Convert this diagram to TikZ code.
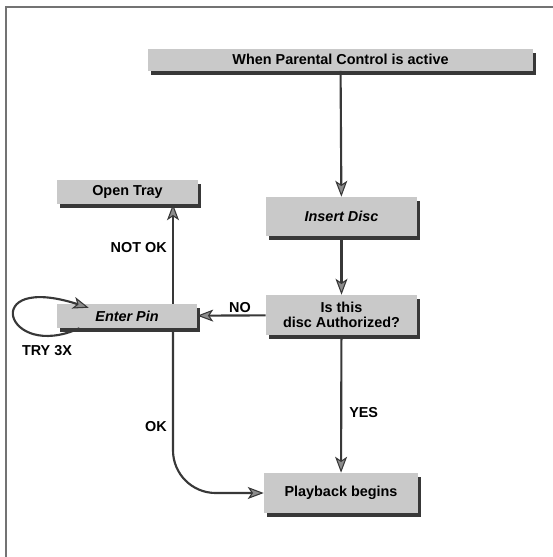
\documentclass[tikz,border=0pt]{standalone}
\usepackage{fontspec}
\setmainfont{Liberation Sans}
\usetikzlibrary{arrows.meta,shadows}

\tikzset{
  box/.style={fill=black!21, inner sep=0pt, align=center,
    font=\fontsize{10.8}{11.5}\selectfont\bfseries,
    drop shadow={shadow xshift=2.5pt, shadow yshift=-3pt, opacity=1, fill=black!78}},
  flow/.style={draw=black!78, line width=1.6pt,
    -{Stealth[length=12pt, width=9pt, inset=3pt, fill=black!45, line width=0.8pt]}},
  lbl/.style={font=\fontsize{10.8}{11.5}\selectfont\bfseries, inner sep=0pt},
  frame/.style={draw=black!55, line width=1.5pt}
}

\begin{document}
\begin{tikzpicture}[x=0.75pt, y=-0.75pt]
  \useasboundingbox (0,0) rectangle (553,557);
  % Coordinates
  \coordinate (A) at (340.5, 59.5);
  \coordinate (B) at (341.5, 216.5);
  \coordinate (C) at (341.5, 315.0);
  \coordinate (D) at (341.0, 493.0);
  \coordinate (E) at (127.0, 316.0);
  \coordinate (F) at (127.5, 192.0);
  \coordinate (G) at (173.0, 316.0);

  % Frame
  \draw[frame] (6,557) -- (6,7) -- (553,7);

  % Boxes
  \node[box, minimum width=288.75pt, minimum height=16.5pt] (active) at (A) {When Parental Control is active};
  \node[box, minimum width=113.25pt, minimum height=29.25pt, font=\fontsize{10.8}{11.5}\selectfont\bfseries\itshape] (insert) at (B) {Insert Disc};
  \node[box, minimum width=113.25pt, minimum height=30pt] (auth) at (C) {Is this\\disc Authorized?};
  \node[box, minimum width=115.5pt, minimum height=30pt] (play) at (D) {Playback begins};
  \node[box, minimum width=105pt, minimum height=18pt, font=\fontsize{10.8}{11.5}\selectfont\bfseries\itshape] (pin) at (E) {Enter Pin};
  \node[box, minimum width=105.75pt, minimum height=18pt] (tray) at (F) {Open Tray};

  % Drawing
  \draw[flow] (active) -- (insert);
  \draw[flow] (insert) -- (auth);
  \draw[flow] (auth) -- (play);
  \draw[flow] (auth) -- (pin);
  \draw[flow] (pin.north -| G) -- (tray.south -| G);
  \draw[flow, rounded corners=32pt] (pin.south -| G) -- (G |- play.west) -- (play.west);
  \draw[flow] ([xshift=17pt]pin.south west) .. controls (5,362) and (-22,272) .. ([xshift=24pt, yshift=-3pt]pin.north west);

  % Labels
  \node[lbl] (no) at (240,308) {NO};
  \node[lbl, anchor=west] (yes) at (349,413) {YES};
  \node[lbl, anchor=east] (notok) at (167,248) {NOT OK};
  \node[lbl, anchor=east] (ok) at (167,427) {OK};
  \node[lbl] (try) at (47,351) {TRY 3X};
\end{tikzpicture}
\end{document}
